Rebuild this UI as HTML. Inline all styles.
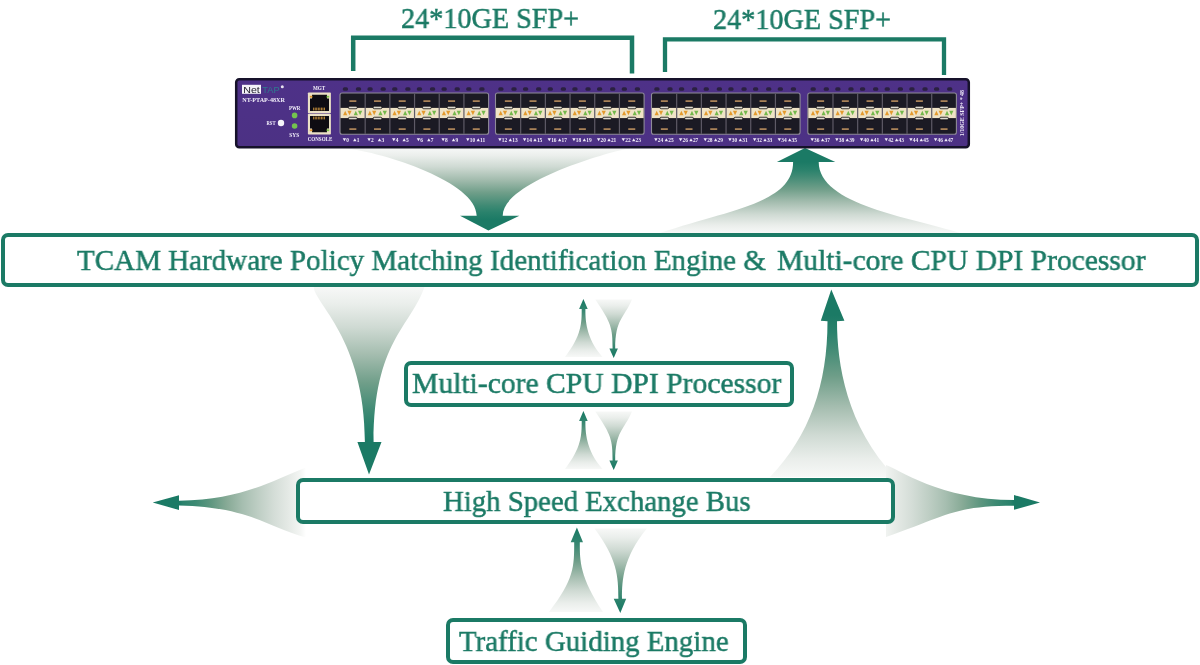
<!DOCTYPE html>
<html><head><meta charset="utf-8"><title>NetTAP</title>
<style>
html,body{margin:0;padding:0;background:#fff;}
body{width:1200px;height:665px;position:relative;overflow:hidden;font-family:"Liberation Serif",serif;}
.a{position:absolute;}
.box{position:absolute;border:4px solid #1b7a65;border-radius:7px;box-sizing:border-box;background:#fff;}
.t{position:absolute;white-space:pre;color:#1b7a65;-webkit-text-stroke:0.5px #1b7a65;font-family:"Liberation Serif",serif;transform-origin:0 0;line-height:1;will-change:transform;}
svg{position:absolute;left:0;top:0;}
.sw{position:absolute;left:235px;top:78px;width:735px;height:70.5px;box-sizing:border-box;background:#4d2b8b;border:2.5px solid #17132b;border-radius:3px;}
.st{position:absolute;white-space:pre;color:#fff;font-family:"Liberation Serif",serif;line-height:1;transform-origin:0 0;}
</style></head><body>

<svg width="1200" height="665" viewBox="0 0 1200 665">
<defs>
<linearGradient id="g1" gradientUnits="userSpaceOnUse" x1="0" y1="148" x2="0" y2="220"><stop offset="0" stop-color="#f7f8f7"/><stop offset="0.11" stop-color="#eaeeeb"/><stop offset="0.26" stop-color="#cfdad3"/><stop offset="0.44" stop-color="#a3bcae"/><stop offset="0.62" stop-color="#6f9e89"/><stop offset="0.80" stop-color="#3f8a74"/><stop offset="0.89" stop-color="#2a826c"/><stop offset="1" stop-color="#1b7a65"/></linearGradient>
<linearGradient id="g2" gradientUnits="userSpaceOnUse" x1="0" y1="233" x2="0" y2="162"><stop offset="0" stop-color="#f7f8f7"/><stop offset="0.11" stop-color="#eaeeeb"/><stop offset="0.26" stop-color="#cfdad3"/><stop offset="0.44" stop-color="#a3bcae"/><stop offset="0.62" stop-color="#6f9e89"/><stop offset="0.80" stop-color="#3f8a74"/><stop offset="0.89" stop-color="#2a826c"/><stop offset="1" stop-color="#1b7a65"/></linearGradient>
<linearGradient id="g3" gradientUnits="userSpaceOnUse" x1="0" y1="287" x2="0" y2="442"><stop offset="0" stop-color="#f7f8f7"/><stop offset="0.11" stop-color="#eaeeeb"/><stop offset="0.26" stop-color="#cfdad3"/><stop offset="0.44" stop-color="#a3bcae"/><stop offset="0.62" stop-color="#6f9e89"/><stop offset="0.80" stop-color="#3f8a74"/><stop offset="0.89" stop-color="#2a826c"/><stop offset="1" stop-color="#1b7a65"/></linearGradient>
<linearGradient id="g4" gradientUnits="userSpaceOnUse" x1="0" y1="477" x2="0" y2="315"><stop offset="0" stop-color="#f7f8f7"/><stop offset="0.11" stop-color="#eaeeeb"/><stop offset="0.26" stop-color="#cfdad3"/><stop offset="0.44" stop-color="#a3bcae"/><stop offset="0.62" stop-color="#6f9e89"/><stop offset="0.80" stop-color="#3f8a74"/><stop offset="0.89" stop-color="#2a826c"/><stop offset="1" stop-color="#1b7a65"/></linearGradient>
<linearGradient id="g5" gradientUnits="userSpaceOnUse" x1="0" y1="357" x2="0" y2="301"><stop offset="0" stop-color="#f7f8f7"/><stop offset="0.11" stop-color="#eaeeeb"/><stop offset="0.26" stop-color="#cfdad3"/><stop offset="0.44" stop-color="#a3bcae"/><stop offset="0.62" stop-color="#6f9e89"/><stop offset="0.80" stop-color="#3f8a74"/><stop offset="0.89" stop-color="#2a826c"/><stop offset="1" stop-color="#1b7a65"/></linearGradient>
<linearGradient id="g6" gradientUnits="userSpaceOnUse" x1="0" y1="299.5" x2="0" y2="356"><stop offset="0" stop-color="#f7f8f7"/><stop offset="0.11" stop-color="#eaeeeb"/><stop offset="0.26" stop-color="#cfdad3"/><stop offset="0.44" stop-color="#a3bcae"/><stop offset="0.62" stop-color="#6f9e89"/><stop offset="0.80" stop-color="#3f8a74"/><stop offset="0.89" stop-color="#2a826c"/><stop offset="1" stop-color="#1b7a65"/></linearGradient>
<linearGradient id="g7" gradientUnits="userSpaceOnUse" x1="0" y1="469" x2="0" y2="413"><stop offset="0" stop-color="#f7f8f7"/><stop offset="0.11" stop-color="#eaeeeb"/><stop offset="0.26" stop-color="#cfdad3"/><stop offset="0.44" stop-color="#a3bcae"/><stop offset="0.62" stop-color="#6f9e89"/><stop offset="0.80" stop-color="#3f8a74"/><stop offset="0.89" stop-color="#2a826c"/><stop offset="1" stop-color="#1b7a65"/></linearGradient>
<linearGradient id="g8" gradientUnits="userSpaceOnUse" x1="0" y1="411.5" x2="0" y2="468"><stop offset="0" stop-color="#f7f8f7"/><stop offset="0.11" stop-color="#eaeeeb"/><stop offset="0.26" stop-color="#cfdad3"/><stop offset="0.44" stop-color="#a3bcae"/><stop offset="0.62" stop-color="#6f9e89"/><stop offset="0.80" stop-color="#3f8a74"/><stop offset="0.89" stop-color="#2a826c"/><stop offset="1" stop-color="#1b7a65"/></linearGradient>
<linearGradient id="g9" gradientUnits="userSpaceOnUse" x1="0" y1="612" x2="0" y2="530"><stop offset="0" stop-color="#f7f8f7"/><stop offset="0.11" stop-color="#eaeeeb"/><stop offset="0.26" stop-color="#cfdad3"/><stop offset="0.44" stop-color="#a3bcae"/><stop offset="0.62" stop-color="#6f9e89"/><stop offset="0.80" stop-color="#3f8a74"/><stop offset="0.89" stop-color="#2a826c"/><stop offset="1" stop-color="#1b7a65"/></linearGradient>
<linearGradient id="g10" gradientUnits="userSpaceOnUse" x1="0" y1="528.6" x2="0" y2="610"><stop offset="0" stop-color="#f7f8f7"/><stop offset="0.11" stop-color="#eaeeeb"/><stop offset="0.26" stop-color="#cfdad3"/><stop offset="0.44" stop-color="#a3bcae"/><stop offset="0.62" stop-color="#6f9e89"/><stop offset="0.80" stop-color="#3f8a74"/><stop offset="0.89" stop-color="#2a826c"/><stop offset="1" stop-color="#1b7a65"/></linearGradient>
<linearGradient id="g11" gradientUnits="userSpaceOnUse" x1="306" y1="0" x2="179" y2="0"><stop offset="0" stop-color="#ffffff"/><stop offset="0.0472" stop-color="#f3f5f3"/><stop offset="0.1425" stop-color="#e4e9e5"/><stop offset="0.2521" stop-color="#d4ddd7"/><stop offset="0.3759" stop-color="#becec4"/><stop offset="0.4998" stop-color="#a6beb0"/><stop offset="0.6237" stop-color="#87aa96"/><stop offset="0.7475" stop-color="#5f9780"/><stop offset="0.8666" stop-color="#3d8a73"/><stop offset="0.9714" stop-color="#2a826c"/><stop offset="1.0000" stop-color="#1b7a65"/></linearGradient>
<linearGradient id="g12" gradientUnits="userSpaceOnUse" x1="878" y1="0" x2="1014" y2="0"><stop offset="0" stop-color="#ffffff"/><stop offset="0.0441" stop-color="#f3f5f3"/><stop offset="0.1397" stop-color="#e4e9e5"/><stop offset="0.2496" stop-color="#d4ddd7"/><stop offset="0.3739" stop-color="#becec4"/><stop offset="0.4982" stop-color="#a6beb0"/><stop offset="0.6224" stop-color="#87aa96"/><stop offset="0.7467" stop-color="#5f9780"/><stop offset="0.8662" stop-color="#3d8a73"/><stop offset="0.9713" stop-color="#2a826c"/><stop offset="1.0000" stop-color="#1b7a65"/></linearGradient>
</defs>
<path d="M344.7,148 C384.3,152.7 476.7,182.0 476.7,215.7 L460,215.7 L488.4,230.6 L519.4,215.7 L502.7,215.7 C502.7,180.0 622.2,148.0 632.7,148 Z" fill="url(#g1)"/>
<path d="M805,148 L776.9,162 L793.1,162 C793.1,203.1 730.4,209.5 660,233 L960,233 C911.1,217.3 818.7,205.1 818.7,162 L835.3,162 Z" fill="url(#g2)"/>
<path d="M313.8,287 C313.8,302.9 364.9,338.7 364.9,442 L357.4,442 L369,474.5 L381.5,442 L373.6,442 C373.6,341.8 410.9,326.3 424.5,287 Z" fill="url(#g3)"/>
<path d="M831.3,289.4 L820.8,320.8 L827.5,321.2 C827.5,384.2 809.7,435.6 770,477 L895,477 C846.2,426.1 837,363 837,321.2 L844.4,320.8 Z" fill="url(#g4)"/>
<path d="M583.4,299.0 L579.1,309.1 L581.7,309.1 C581.7,322.6 581.7,335.6 565,357.0 L602.5,357.0 C585.4,337.9 585.4,318.4 585.4,309.1 L587.7,309.1 Z" fill="url(#g5)"/>
<path d="M595.3,299.5 C611.3,322.9 612.6,328.1 612.6,348.4 L609.4,348.4 L613.7,358.0 L617.9,348.4 L615.2,348.4 C615.2,319.2 624.1,318.0 632,299.5 Z" fill="url(#g6)"/>
<path d="M583.4,411.0 L579.1,421.1 L581.7,421.1 C581.7,434.6 581.7,447.6 565,469.0 L602.5,469.0 C585.4,449.9 585.4,430.4 585.4,421.1 L587.7,421.1 Z" fill="url(#g7)"/>
<path d="M595.3,411.5 C611.3,434.9 612.6,440.1 612.6,460.4 L609.4,460.4 L613.7,470.0 L617.9,460.4 L615.2,460.4 C615.2,431.2 624.1,430.0 632,411.5 Z" fill="url(#g8)"/>
<path d="M576.9,527.6 L570.7,542.3 L574.2,542.3 C574.2,566.4 574.2,579.7 549,612 L603,612 C579.8,577.1 579.8,561.2 579.8,542.3 L583,542.3 Z" fill="url(#g9)"/>
<path d="M594.5,528.6 C617,559.1 618.4,575.5 618.4,598.7 L613.7,598.7 L620.3,613.1 L626.2,598.7 L622,598.7 C622,579.9 623.2,557.4 646.9,528.6 Z" fill="url(#g10)"/>
<path d="M152.7,502.5 L179,495.2 L179,500.7 C239.5,499.8 266.4,483.4 306,467.5 L306,537.5 C262.1,524.8 249.3,507.4 179,505.4 L179,509.9 Z" fill="url(#g11)"/>
<path d="M1040,502.5 L1014,495 L1014,500.1 C940.9,500.1 897.4,468.6 886,465 L886,537 C945.3,516.7 952,505.8 1014,505.8 L1014,509.8 Z" fill="url(#g12)"/>
<path d="M353.2,71 L353.2,37.7 L632,37.7 L632,73.6" fill="none" stroke="#1b7a65" stroke-width="4.5"/>
<path d="M665,72 L665,39.4 L944,39.4 L944,75" fill="none" stroke="#1b7a65" stroke-width="4.3"/>
</svg>
<div class="box" style="left:1px;top:233px;width:1198px;height:54px"></div>
<div class="box" style="left:404px;top:361px;width:390px;height:46px"></div>
<div class="box" style="left:296px;top:478px;width:599px;height:46px"></div>
<div class="box" style="left:446px;top:618px;width:301px;height:46px"></div>
<div class="t" style="left:401px;top:3.90px;font-size:29px;transform:scaleX(0.972);">24*10GE SFP+</div>
<div class="t" style="left:713px;top:4.90px;font-size:29px;transform:scaleX(0.972);">24*10GE SFP+</div>
<div class="t" style="left:77px;top:244.68px;font-size:30.2px;transform:scaleX(0.9622);">TCAM Hardware Policy Matching Identification Engine &amp;</div>
<div class="t" style="left:777.3px;top:244.68px;font-size:30.2px;transform:scaleX(0.9788);">Multi-core CPU DPI Processor</div>
<div class="t" style="left:411.5px;top:368.22px;font-size:30px;transform:scaleX(0.987);">Multi-core CPU DPI Processor</div>
<div class="t" style="left:442.5px;top:486.81px;font-size:29.5px;transform:scaleX(0.975);">High Speed Exchange Bus</div>
<div class="t" style="left:459px;top:626.22px;font-size:30px;transform:scaleX(0.963);">Traffic Guiding Engine</div>
<svg width="1200" height="665" viewBox="0 0 1200 665" style="position:absolute;left:0;top:0">
<defs><linearGradient id="pur" x1="0" y1="0" x2="0" y2="1"><stop offset="0" stop-color="#4e3188"/><stop offset="1" stop-color="#4c3184"/></linearGradient></defs>
<rect x="236.2" y="79.2" width="732.6" height="68.1" rx="3" fill="url(#pur)" stroke="#16122a" stroke-width="2.5"/>
<rect x="242" y="84.8" width="19" height="9" fill="#f4f2f8"/>
<text x="243.2" y="92.6" font-family="Liberation Sans" font-size="9.6" fill="#1d1a28" textLength="16.6" lengthAdjust="spacingAndGlyphs">Net</text>
<text x="262.3" y="92.6" font-family="Liberation Sans" font-size="9.6" fill="#2f7a90" textLength="17.3" lengthAdjust="spacingAndGlyphs">TAP</text>
<circle cx="282.3" cy="86.8" r="1.5" fill="#e8e4f0"/>
<text x="242.3" y="102.2" font-family="Liberation Serif" font-weight="bold" font-size="7" fill="#f2eefa" textLength="42.6" lengthAdjust="spacingAndGlyphs">NT-PTAP-48XR</text>
<text x="288.9" y="110" font-family="Liberation Serif" font-weight="bold" font-size="5.6" fill="#f2eefa" textLength="11.5" lengthAdjust="spacingAndGlyphs">PWR</text>
<text x="289.2" y="136.6" font-family="Liberation Serif" font-weight="bold" font-size="5.6" fill="#f2eefa" textLength="10" lengthAdjust="spacingAndGlyphs">SYS</text>
<text x="266.5" y="125.2" font-family="Liberation Serif" font-weight="bold" font-size="5.6" fill="#f2eefa" textLength="9" lengthAdjust="spacingAndGlyphs">RST</text>
<circle cx="294.6" cy="115.4" r="2.8" fill="#74c34f"/>
<circle cx="294.6" cy="126" r="2.8" fill="#74c34f"/>
<circle cx="281" cy="123" r="3.2" fill="#f6f4fa"/>
<text x="312.9" y="90.1" font-family="Liberation Serif" font-weight="bold" font-size="5.6" fill="#f2eefa" textLength="12.3" lengthAdjust="spacingAndGlyphs">MGT</text>
<text x="307.7" y="141.4" font-family="Liberation Serif" font-weight="bold" font-size="5.6" fill="#f2eefa" textLength="24.6" lengthAdjust="spacingAndGlyphs">CONSOLE</text>
<rect x="307.9" y="92.4" width="23" height="20.9" rx="0.8" fill="#ebe0c6"/>
<path d="M310,98.4 L312,98.4 L312,94.80000000000001 L327,94.80000000000001 L327,98.4 L329,98.4 L329,110.9 L310,110.9 Z" fill="#0e0c12"/>
<rect x="309.8" y="95.80000000000001" width="2.6" height="1.8" fill="#e0962e"/>
<rect x="326.6" y="95.80000000000001" width="2.6" height="1.8" fill="#7cc04a"/>
<rect x="313.20" y="107.60000000000001" width="0.9" height="2.8" fill="#c9923e"/>
<rect x="314.75" y="107.60000000000001" width="0.9" height="2.8" fill="#c9923e"/>
<rect x="316.30" y="107.60000000000001" width="0.9" height="2.8" fill="#c9923e"/>
<rect x="317.85" y="107.60000000000001" width="0.9" height="2.8" fill="#c9923e"/>
<rect x="319.40" y="107.60000000000001" width="0.9" height="2.8" fill="#c9923e"/>
<rect x="320.95" y="107.60000000000001" width="0.9" height="2.8" fill="#c9923e"/>
<rect x="322.50" y="107.60000000000001" width="0.9" height="2.8" fill="#c9923e"/>
<rect x="324.05" y="107.60000000000001" width="0.9" height="2.8" fill="#c9923e"/>
<rect x="307.9" y="113.7" width="23" height="20.9" rx="0.8" fill="#ebe0c6"/>
<path d="M310,116.10000000000001 L329,116.10000000000001 L329,128.6 L327,128.6 L327,132.2 L312,132.2 L312,128.6 L310,128.6 Z" fill="#0e0c12"/>
<rect x="309.8" y="129.4" width="2.6" height="1.8" fill="#e0962e"/>
<rect x="326.6" y="129.4" width="2.6" height="1.8" fill="#7cc04a"/>
<rect x="313.20" y="116.60000000000001" width="0.9" height="2.8" fill="#c9923e"/>
<rect x="314.75" y="116.60000000000001" width="0.9" height="2.8" fill="#c9923e"/>
<rect x="316.30" y="116.60000000000001" width="0.9" height="2.8" fill="#c9923e"/>
<rect x="317.85" y="116.60000000000001" width="0.9" height="2.8" fill="#c9923e"/>
<rect x="319.40" y="116.60000000000001" width="0.9" height="2.8" fill="#c9923e"/>
<rect x="320.95" y="116.60000000000001" width="0.9" height="2.8" fill="#c9923e"/>
<rect x="322.50" y="116.60000000000001" width="0.9" height="2.8" fill="#c9923e"/>
<rect x="324.05" y="116.60000000000001" width="0.9" height="2.8" fill="#c9923e"/>
<rect x="340.0" y="93" width="148.6" height="41.3" rx="2" fill="#1b1a24" stroke="#8f8b98" stroke-width="1.1"/>
<rect x="340.5" y="107.9" width="147.6" height="10.2" fill="#efe3c6"/>
<rect x="348.44" y="106.2" width="8.8" height="2.6" rx="1.2" fill="#a9a39a" stroke="#09080c" stroke-width="0.7"/>
<rect x="349.24" y="106.9" width="7.2" height="0.8" fill="#f4f1ea"/>
<rect x="348.44" y="117.2" width="8.8" height="2.6" rx="1.2" fill="#a9a39a" stroke="#09080c" stroke-width="0.7"/>
<rect x="349.24" y="118.3" width="7.2" height="0.8" fill="#f4f1ea"/>
<rect x="349.34" y="100.3" width="7" height="1.6" fill="#b98e5f"/>
<rect x="349.34" y="128.3" width="7" height="1.6" fill="#b98e5f"/>
<path d="M343.10,115.2 L347.30,115.2 L345.20,110.8 Z" fill="#e39a2e"/>
<path d="M347.40,110.8 L351.60,110.8 L349.50,115.2 Z" fill="#e39a2e"/>
<path d="M353.70,115.2 L357.90,115.2 L355.80,110.8 Z" fill="#74b84c"/>
<path d="M358.00,110.8 L362.20,110.8 L360.10,115.2 Z" fill="#74b84c"/>
<rect x="342.80" y="87.2" width="5.2" height="3.6" rx="1.6" fill="#2a2040"/>
<rect x="355.90" y="87.2" width="5.2" height="3.6" rx="1.6" fill="#2a2040"/>
<path d="M342.70,138.3 L346.10,138.3 L344.40,141.3 Z" fill="#f2eefa"/>
<path d="M353.10,141.3 L356.50,141.3 L354.80,138.3 Z" fill="#f2eefa"/>
<text x="346.30" y="141.7" font-family="Liberation Serif" font-weight="bold" font-size="5.4" fill="#f2eefa">0</text>
<text x="356.70" y="141.7" font-family="Liberation Serif" font-weight="bold" font-size="5.4" fill="#f2eefa">1</text>
<rect x="364.58" y="93.5" width="1.2" height="40.4" fill="#5e5a66"/>
<rect x="373.12" y="106.2" width="8.8" height="2.6" rx="1.2" fill="#a9a39a" stroke="#09080c" stroke-width="0.7"/>
<rect x="373.92" y="106.9" width="7.2" height="0.8" fill="#f4f1ea"/>
<rect x="373.12" y="117.2" width="8.8" height="2.6" rx="1.2" fill="#a9a39a" stroke="#09080c" stroke-width="0.7"/>
<rect x="373.92" y="118.3" width="7.2" height="0.8" fill="#f4f1ea"/>
<rect x="374.02" y="100.3" width="7" height="1.6" fill="#b98e5f"/>
<rect x="374.02" y="128.3" width="7" height="1.6" fill="#b98e5f"/>
<path d="M367.78,115.2 L371.98,115.2 L369.88,110.8 Z" fill="#e39a2e"/>
<path d="M372.08,110.8 L376.28,110.8 L374.18,115.2 Z" fill="#e39a2e"/>
<path d="M378.38,115.2 L382.58,115.2 L380.48,110.8 Z" fill="#74b84c"/>
<path d="M382.68,110.8 L386.88,110.8 L384.78,115.2 Z" fill="#74b84c"/>
<rect x="367.48" y="87.2" width="5.2" height="3.6" rx="1.6" fill="#2a2040"/>
<rect x="380.58" y="87.2" width="5.2" height="3.6" rx="1.6" fill="#2a2040"/>
<path d="M367.38,138.3 L370.78,138.3 L369.08,141.3 Z" fill="#f2eefa"/>
<path d="M377.78,141.3 L381.18,141.3 L379.48,138.3 Z" fill="#f2eefa"/>
<text x="370.98" y="141.7" font-family="Liberation Serif" font-weight="bold" font-size="5.4" fill="#f2eefa">2</text>
<text x="381.38" y="141.7" font-family="Liberation Serif" font-weight="bold" font-size="5.4" fill="#f2eefa">3</text>
<rect x="389.27" y="93.5" width="1.2" height="40.4" fill="#5e5a66"/>
<rect x="397.81" y="106.2" width="8.8" height="2.6" rx="1.2" fill="#a9a39a" stroke="#09080c" stroke-width="0.7"/>
<rect x="398.61" y="106.9" width="7.2" height="0.8" fill="#f4f1ea"/>
<rect x="397.81" y="117.2" width="8.8" height="2.6" rx="1.2" fill="#a9a39a" stroke="#09080c" stroke-width="0.7"/>
<rect x="398.61" y="118.3" width="7.2" height="0.8" fill="#f4f1ea"/>
<rect x="398.71" y="100.3" width="7" height="1.6" fill="#b98e5f"/>
<rect x="398.71" y="128.3" width="7" height="1.6" fill="#b98e5f"/>
<path d="M392.47,115.2 L396.67,115.2 L394.57,110.8 Z" fill="#e39a2e"/>
<path d="M396.77,110.8 L400.97,110.8 L398.87,115.2 Z" fill="#e39a2e"/>
<path d="M403.07,115.2 L407.27,115.2 L405.17,110.8 Z" fill="#74b84c"/>
<path d="M407.37,110.8 L411.57,110.8 L409.47,115.2 Z" fill="#74b84c"/>
<rect x="392.17" y="87.2" width="5.2" height="3.6" rx="1.6" fill="#2a2040"/>
<rect x="405.27" y="87.2" width="5.2" height="3.6" rx="1.6" fill="#2a2040"/>
<path d="M392.07,138.3 L395.47,138.3 L393.77,141.3 Z" fill="#f2eefa"/>
<path d="M402.47,141.3 L405.87,141.3 L404.17,138.3 Z" fill="#f2eefa"/>
<text x="395.67" y="141.7" font-family="Liberation Serif" font-weight="bold" font-size="5.4" fill="#f2eefa">4</text>
<text x="406.07" y="141.7" font-family="Liberation Serif" font-weight="bold" font-size="5.4" fill="#f2eefa">5</text>
<rect x="413.95" y="93.5" width="1.2" height="40.4" fill="#5e5a66"/>
<rect x="422.49" y="106.2" width="8.8" height="2.6" rx="1.2" fill="#a9a39a" stroke="#09080c" stroke-width="0.7"/>
<rect x="423.29" y="106.9" width="7.2" height="0.8" fill="#f4f1ea"/>
<rect x="422.49" y="117.2" width="8.8" height="2.6" rx="1.2" fill="#a9a39a" stroke="#09080c" stroke-width="0.7"/>
<rect x="423.29" y="118.3" width="7.2" height="0.8" fill="#f4f1ea"/>
<rect x="423.39" y="100.3" width="7" height="1.6" fill="#b98e5f"/>
<rect x="423.39" y="128.3" width="7" height="1.6" fill="#b98e5f"/>
<path d="M417.15,115.2 L421.35,115.2 L419.25,110.8 Z" fill="#e39a2e"/>
<path d="M421.45,110.8 L425.65,110.8 L423.55,115.2 Z" fill="#e39a2e"/>
<path d="M427.75,115.2 L431.95,115.2 L429.85,110.8 Z" fill="#74b84c"/>
<path d="M432.05,110.8 L436.25,110.8 L434.15,115.2 Z" fill="#74b84c"/>
<rect x="416.85" y="87.2" width="5.2" height="3.6" rx="1.6" fill="#2a2040"/>
<rect x="429.95" y="87.2" width="5.2" height="3.6" rx="1.6" fill="#2a2040"/>
<path d="M416.75,138.3 L420.15,138.3 L418.45,141.3 Z" fill="#f2eefa"/>
<path d="M427.15,141.3 L430.55,141.3 L428.85,138.3 Z" fill="#f2eefa"/>
<text x="420.35" y="141.7" font-family="Liberation Serif" font-weight="bold" font-size="5.4" fill="#f2eefa">6</text>
<text x="430.75" y="141.7" font-family="Liberation Serif" font-weight="bold" font-size="5.4" fill="#f2eefa">7</text>
<rect x="438.63" y="93.5" width="1.2" height="40.4" fill="#5e5a66"/>
<rect x="447.18" y="106.2" width="8.8" height="2.6" rx="1.2" fill="#a9a39a" stroke="#09080c" stroke-width="0.7"/>
<rect x="447.97" y="106.9" width="7.2" height="0.8" fill="#f4f1ea"/>
<rect x="447.18" y="117.2" width="8.8" height="2.6" rx="1.2" fill="#a9a39a" stroke="#09080c" stroke-width="0.7"/>
<rect x="447.97" y="118.3" width="7.2" height="0.8" fill="#f4f1ea"/>
<rect x="448.07" y="100.3" width="7" height="1.6" fill="#b98e5f"/>
<rect x="448.07" y="128.3" width="7" height="1.6" fill="#b98e5f"/>
<path d="M441.83,115.2 L446.03,115.2 L443.93,110.8 Z" fill="#e39a2e"/>
<path d="M446.13,110.8 L450.33,110.8 L448.23,115.2 Z" fill="#e39a2e"/>
<path d="M452.43,115.2 L456.63,115.2 L454.53,110.8 Z" fill="#74b84c"/>
<path d="M456.73,110.8 L460.93,110.8 L458.83,115.2 Z" fill="#74b84c"/>
<rect x="441.53" y="87.2" width="5.2" height="3.6" rx="1.6" fill="#2a2040"/>
<rect x="454.63" y="87.2" width="5.2" height="3.6" rx="1.6" fill="#2a2040"/>
<path d="M441.43,138.3 L444.83,138.3 L443.13,141.3 Z" fill="#f2eefa"/>
<path d="M451.83,141.3 L455.23,141.3 L453.53,138.3 Z" fill="#f2eefa"/>
<text x="445.03" y="141.7" font-family="Liberation Serif" font-weight="bold" font-size="5.4" fill="#f2eefa">8</text>
<text x="455.43" y="141.7" font-family="Liberation Serif" font-weight="bold" font-size="5.4" fill="#f2eefa">9</text>
<rect x="463.32" y="93.5" width="1.2" height="40.4" fill="#5e5a66"/>
<rect x="471.86" y="106.2" width="8.8" height="2.6" rx="1.2" fill="#a9a39a" stroke="#09080c" stroke-width="0.7"/>
<rect x="472.66" y="106.9" width="7.2" height="0.8" fill="#f4f1ea"/>
<rect x="471.86" y="117.2" width="8.8" height="2.6" rx="1.2" fill="#a9a39a" stroke="#09080c" stroke-width="0.7"/>
<rect x="472.66" y="118.3" width="7.2" height="0.8" fill="#f4f1ea"/>
<rect x="472.76" y="100.3" width="7" height="1.6" fill="#b98e5f"/>
<rect x="472.76" y="128.3" width="7" height="1.6" fill="#b98e5f"/>
<path d="M466.52,115.2 L470.72,115.2 L468.62,110.8 Z" fill="#e39a2e"/>
<path d="M470.82,110.8 L475.02,110.8 L472.92,115.2 Z" fill="#e39a2e"/>
<path d="M477.12,115.2 L481.32,115.2 L479.22,110.8 Z" fill="#74b84c"/>
<path d="M481.42,110.8 L485.62,110.8 L483.52,115.2 Z" fill="#74b84c"/>
<rect x="466.22" y="87.2" width="5.2" height="3.6" rx="1.6" fill="#2a2040"/>
<rect x="479.32" y="87.2" width="5.2" height="3.6" rx="1.6" fill="#2a2040"/>
<path d="M466.12,138.3 L469.52,138.3 L467.82,141.3 Z" fill="#f2eefa"/>
<path d="M476.52,141.3 L479.92,141.3 L478.22,138.3 Z" fill="#f2eefa"/>
<text x="469.72" y="141.7" font-family="Liberation Serif" font-weight="bold" font-size="5.4" fill="#f2eefa">10</text>
<text x="480.12" y="141.7" font-family="Liberation Serif" font-weight="bold" font-size="5.4" fill="#f2eefa">11</text>
<rect x="495.5" y="93" width="148.6" height="41.3" rx="2" fill="#1b1a24" stroke="#8f8b98" stroke-width="1.1"/>
<rect x="496.0" y="107.9" width="147.6" height="10.2" fill="#efe3c6"/>
<rect x="503.94" y="106.2" width="8.8" height="2.6" rx="1.2" fill="#a9a39a" stroke="#09080c" stroke-width="0.7"/>
<rect x="504.74" y="106.9" width="7.2" height="0.8" fill="#f4f1ea"/>
<rect x="503.94" y="117.2" width="8.8" height="2.6" rx="1.2" fill="#a9a39a" stroke="#09080c" stroke-width="0.7"/>
<rect x="504.74" y="118.3" width="7.2" height="0.8" fill="#f4f1ea"/>
<rect x="504.84" y="100.3" width="7" height="1.6" fill="#b98e5f"/>
<rect x="504.84" y="128.3" width="7" height="1.6" fill="#b98e5f"/>
<path d="M498.60,115.2 L502.80,115.2 L500.70,110.8 Z" fill="#e39a2e"/>
<path d="M502.90,110.8 L507.10,110.8 L505.00,115.2 Z" fill="#e39a2e"/>
<path d="M509.20,115.2 L513.40,115.2 L511.30,110.8 Z" fill="#74b84c"/>
<path d="M513.50,110.8 L517.70,110.8 L515.60,115.2 Z" fill="#74b84c"/>
<rect x="498.30" y="87.2" width="5.2" height="3.6" rx="1.6" fill="#2a2040"/>
<rect x="511.40" y="87.2" width="5.2" height="3.6" rx="1.6" fill="#2a2040"/>
<path d="M498.20,138.3 L501.60,138.3 L499.90,141.3 Z" fill="#f2eefa"/>
<path d="M508.60,141.3 L512.00,141.3 L510.30,138.3 Z" fill="#f2eefa"/>
<text x="501.80" y="141.7" font-family="Liberation Serif" font-weight="bold" font-size="5.4" fill="#f2eefa">12</text>
<text x="512.20" y="141.7" font-family="Liberation Serif" font-weight="bold" font-size="5.4" fill="#f2eefa">13</text>
<rect x="520.08" y="93.5" width="1.2" height="40.4" fill="#5e5a66"/>
<rect x="528.62" y="106.2" width="8.8" height="2.6" rx="1.2" fill="#a9a39a" stroke="#09080c" stroke-width="0.7"/>
<rect x="529.42" y="106.9" width="7.2" height="0.8" fill="#f4f1ea"/>
<rect x="528.62" y="117.2" width="8.8" height="2.6" rx="1.2" fill="#a9a39a" stroke="#09080c" stroke-width="0.7"/>
<rect x="529.42" y="118.3" width="7.2" height="0.8" fill="#f4f1ea"/>
<rect x="529.52" y="100.3" width="7" height="1.6" fill="#b98e5f"/>
<rect x="529.52" y="128.3" width="7" height="1.6" fill="#b98e5f"/>
<path d="M523.28,115.2 L527.48,115.2 L525.38,110.8 Z" fill="#e39a2e"/>
<path d="M527.58,110.8 L531.78,110.8 L529.68,115.2 Z" fill="#e39a2e"/>
<path d="M533.88,115.2 L538.08,115.2 L535.98,110.8 Z" fill="#74b84c"/>
<path d="M538.18,110.8 L542.38,110.8 L540.28,115.2 Z" fill="#74b84c"/>
<rect x="522.98" y="87.2" width="5.2" height="3.6" rx="1.6" fill="#2a2040"/>
<rect x="536.08" y="87.2" width="5.2" height="3.6" rx="1.6" fill="#2a2040"/>
<path d="M522.88,138.3 L526.28,138.3 L524.58,141.3 Z" fill="#f2eefa"/>
<path d="M533.28,141.3 L536.68,141.3 L534.98,138.3 Z" fill="#f2eefa"/>
<text x="526.48" y="141.7" font-family="Liberation Serif" font-weight="bold" font-size="5.4" fill="#f2eefa">14</text>
<text x="536.88" y="141.7" font-family="Liberation Serif" font-weight="bold" font-size="5.4" fill="#f2eefa">15</text>
<rect x="544.77" y="93.5" width="1.2" height="40.4" fill="#5e5a66"/>
<rect x="553.31" y="106.2" width="8.8" height="2.6" rx="1.2" fill="#a9a39a" stroke="#09080c" stroke-width="0.7"/>
<rect x="554.11" y="106.9" width="7.2" height="0.8" fill="#f4f1ea"/>
<rect x="553.31" y="117.2" width="8.8" height="2.6" rx="1.2" fill="#a9a39a" stroke="#09080c" stroke-width="0.7"/>
<rect x="554.11" y="118.3" width="7.2" height="0.8" fill="#f4f1ea"/>
<rect x="554.21" y="100.3" width="7" height="1.6" fill="#b98e5f"/>
<rect x="554.21" y="128.3" width="7" height="1.6" fill="#b98e5f"/>
<path d="M547.97,115.2 L552.17,115.2 L550.07,110.8 Z" fill="#e39a2e"/>
<path d="M552.27,110.8 L556.47,110.8 L554.37,115.2 Z" fill="#e39a2e"/>
<path d="M558.57,115.2 L562.77,115.2 L560.67,110.8 Z" fill="#74b84c"/>
<path d="M562.87,110.8 L567.07,110.8 L564.97,115.2 Z" fill="#74b84c"/>
<rect x="547.67" y="87.2" width="5.2" height="3.6" rx="1.6" fill="#2a2040"/>
<rect x="560.77" y="87.2" width="5.2" height="3.6" rx="1.6" fill="#2a2040"/>
<path d="M547.57,138.3 L550.97,138.3 L549.27,141.3 Z" fill="#f2eefa"/>
<path d="M557.97,141.3 L561.37,141.3 L559.67,138.3 Z" fill="#f2eefa"/>
<text x="551.17" y="141.7" font-family="Liberation Serif" font-weight="bold" font-size="5.4" fill="#f2eefa">16</text>
<text x="561.57" y="141.7" font-family="Liberation Serif" font-weight="bold" font-size="5.4" fill="#f2eefa">17</text>
<rect x="569.45" y="93.5" width="1.2" height="40.4" fill="#5e5a66"/>
<rect x="577.99" y="106.2" width="8.8" height="2.6" rx="1.2" fill="#a9a39a" stroke="#09080c" stroke-width="0.7"/>
<rect x="578.79" y="106.9" width="7.2" height="0.8" fill="#f4f1ea"/>
<rect x="577.99" y="117.2" width="8.8" height="2.6" rx="1.2" fill="#a9a39a" stroke="#09080c" stroke-width="0.7"/>
<rect x="578.79" y="118.3" width="7.2" height="0.8" fill="#f4f1ea"/>
<rect x="578.89" y="100.3" width="7" height="1.6" fill="#b98e5f"/>
<rect x="578.89" y="128.3" width="7" height="1.6" fill="#b98e5f"/>
<path d="M572.65,115.2 L576.85,115.2 L574.75,110.8 Z" fill="#e39a2e"/>
<path d="M576.95,110.8 L581.15,110.8 L579.05,115.2 Z" fill="#e39a2e"/>
<path d="M583.25,115.2 L587.45,115.2 L585.35,110.8 Z" fill="#74b84c"/>
<path d="M587.55,110.8 L591.75,110.8 L589.65,115.2 Z" fill="#74b84c"/>
<rect x="572.35" y="87.2" width="5.2" height="3.6" rx="1.6" fill="#2a2040"/>
<rect x="585.45" y="87.2" width="5.2" height="3.6" rx="1.6" fill="#2a2040"/>
<path d="M572.25,138.3 L575.65,138.3 L573.95,141.3 Z" fill="#f2eefa"/>
<path d="M582.65,141.3 L586.05,141.3 L584.35,138.3 Z" fill="#f2eefa"/>
<text x="575.85" y="141.7" font-family="Liberation Serif" font-weight="bold" font-size="5.4" fill="#f2eefa">18</text>
<text x="586.25" y="141.7" font-family="Liberation Serif" font-weight="bold" font-size="5.4" fill="#f2eefa">19</text>
<rect x="594.13" y="93.5" width="1.2" height="40.4" fill="#5e5a66"/>
<rect x="602.68" y="106.2" width="8.8" height="2.6" rx="1.2" fill="#a9a39a" stroke="#09080c" stroke-width="0.7"/>
<rect x="603.48" y="106.9" width="7.2" height="0.8" fill="#f4f1ea"/>
<rect x="602.68" y="117.2" width="8.8" height="2.6" rx="1.2" fill="#a9a39a" stroke="#09080c" stroke-width="0.7"/>
<rect x="603.48" y="118.3" width="7.2" height="0.8" fill="#f4f1ea"/>
<rect x="603.58" y="100.3" width="7" height="1.6" fill="#b98e5f"/>
<rect x="603.58" y="128.3" width="7" height="1.6" fill="#b98e5f"/>
<path d="M597.33,115.2 L601.53,115.2 L599.43,110.8 Z" fill="#e39a2e"/>
<path d="M601.63,110.8 L605.83,110.8 L603.73,115.2 Z" fill="#e39a2e"/>
<path d="M607.93,115.2 L612.13,115.2 L610.03,110.8 Z" fill="#74b84c"/>
<path d="M612.23,110.8 L616.43,110.8 L614.33,115.2 Z" fill="#74b84c"/>
<rect x="597.03" y="87.2" width="5.2" height="3.6" rx="1.6" fill="#2a2040"/>
<rect x="610.13" y="87.2" width="5.2" height="3.6" rx="1.6" fill="#2a2040"/>
<path d="M596.93,138.3 L600.33,138.3 L598.63,141.3 Z" fill="#f2eefa"/>
<path d="M607.33,141.3 L610.73,141.3 L609.03,138.3 Z" fill="#f2eefa"/>
<text x="600.53" y="141.7" font-family="Liberation Serif" font-weight="bold" font-size="5.4" fill="#f2eefa">20</text>
<text x="610.93" y="141.7" font-family="Liberation Serif" font-weight="bold" font-size="5.4" fill="#f2eefa">21</text>
<rect x="618.82" y="93.5" width="1.2" height="40.4" fill="#5e5a66"/>
<rect x="627.36" y="106.2" width="8.8" height="2.6" rx="1.2" fill="#a9a39a" stroke="#09080c" stroke-width="0.7"/>
<rect x="628.16" y="106.9" width="7.2" height="0.8" fill="#f4f1ea"/>
<rect x="627.36" y="117.2" width="8.8" height="2.6" rx="1.2" fill="#a9a39a" stroke="#09080c" stroke-width="0.7"/>
<rect x="628.16" y="118.3" width="7.2" height="0.8" fill="#f4f1ea"/>
<rect x="628.26" y="100.3" width="7" height="1.6" fill="#b98e5f"/>
<rect x="628.26" y="128.3" width="7" height="1.6" fill="#b98e5f"/>
<path d="M622.02,115.2 L626.22,115.2 L624.12,110.8 Z" fill="#e39a2e"/>
<path d="M626.32,110.8 L630.52,110.8 L628.42,115.2 Z" fill="#e39a2e"/>
<path d="M632.62,115.2 L636.82,115.2 L634.72,110.8 Z" fill="#74b84c"/>
<path d="M636.92,110.8 L641.12,110.8 L639.02,115.2 Z" fill="#74b84c"/>
<rect x="621.72" y="87.2" width="5.2" height="3.6" rx="1.6" fill="#2a2040"/>
<rect x="634.82" y="87.2" width="5.2" height="3.6" rx="1.6" fill="#2a2040"/>
<path d="M621.62,138.3 L625.02,138.3 L623.32,141.3 Z" fill="#f2eefa"/>
<path d="M632.02,141.3 L635.42,141.3 L633.72,138.3 Z" fill="#f2eefa"/>
<text x="625.22" y="141.7" font-family="Liberation Serif" font-weight="bold" font-size="5.4" fill="#f2eefa">22</text>
<text x="635.62" y="141.7" font-family="Liberation Serif" font-weight="bold" font-size="5.4" fill="#f2eefa">23</text>
<rect x="651.5" y="93" width="148.6" height="41.3" rx="2" fill="#1b1a24" stroke="#8f8b98" stroke-width="1.1"/>
<rect x="652.0" y="107.9" width="147.6" height="10.2" fill="#efe3c6"/>
<rect x="659.94" y="106.2" width="8.8" height="2.6" rx="1.2" fill="#a9a39a" stroke="#09080c" stroke-width="0.7"/>
<rect x="660.74" y="106.9" width="7.2" height="0.8" fill="#f4f1ea"/>
<rect x="659.94" y="117.2" width="8.8" height="2.6" rx="1.2" fill="#a9a39a" stroke="#09080c" stroke-width="0.7"/>
<rect x="660.74" y="118.3" width="7.2" height="0.8" fill="#f4f1ea"/>
<rect x="660.84" y="100.3" width="7" height="1.6" fill="#b98e5f"/>
<rect x="660.84" y="128.3" width="7" height="1.6" fill="#b98e5f"/>
<path d="M654.60,115.2 L658.80,115.2 L656.70,110.8 Z" fill="#e39a2e"/>
<path d="M658.90,110.8 L663.10,110.8 L661.00,115.2 Z" fill="#e39a2e"/>
<path d="M665.20,115.2 L669.40,115.2 L667.30,110.8 Z" fill="#74b84c"/>
<path d="M669.50,110.8 L673.70,110.8 L671.60,115.2 Z" fill="#74b84c"/>
<rect x="654.30" y="87.2" width="5.2" height="3.6" rx="1.6" fill="#2a2040"/>
<rect x="667.40" y="87.2" width="5.2" height="3.6" rx="1.6" fill="#2a2040"/>
<path d="M654.20,138.3 L657.60,138.3 L655.90,141.3 Z" fill="#f2eefa"/>
<path d="M664.60,141.3 L668.00,141.3 L666.30,138.3 Z" fill="#f2eefa"/>
<text x="657.80" y="141.7" font-family="Liberation Serif" font-weight="bold" font-size="5.4" fill="#f2eefa">24</text>
<text x="668.20" y="141.7" font-family="Liberation Serif" font-weight="bold" font-size="5.4" fill="#f2eefa">25</text>
<rect x="676.08" y="93.5" width="1.2" height="40.4" fill="#5e5a66"/>
<rect x="684.62" y="106.2" width="8.8" height="2.6" rx="1.2" fill="#a9a39a" stroke="#09080c" stroke-width="0.7"/>
<rect x="685.42" y="106.9" width="7.2" height="0.8" fill="#f4f1ea"/>
<rect x="684.62" y="117.2" width="8.8" height="2.6" rx="1.2" fill="#a9a39a" stroke="#09080c" stroke-width="0.7"/>
<rect x="685.42" y="118.3" width="7.2" height="0.8" fill="#f4f1ea"/>
<rect x="685.52" y="100.3" width="7" height="1.6" fill="#b98e5f"/>
<rect x="685.52" y="128.3" width="7" height="1.6" fill="#b98e5f"/>
<path d="M679.28,115.2 L683.48,115.2 L681.38,110.8 Z" fill="#e39a2e"/>
<path d="M683.58,110.8 L687.78,110.8 L685.68,115.2 Z" fill="#e39a2e"/>
<path d="M689.88,115.2 L694.08,115.2 L691.98,110.8 Z" fill="#74b84c"/>
<path d="M694.18,110.8 L698.38,110.8 L696.28,115.2 Z" fill="#74b84c"/>
<rect x="678.98" y="87.2" width="5.2" height="3.6" rx="1.6" fill="#2a2040"/>
<rect x="692.08" y="87.2" width="5.2" height="3.6" rx="1.6" fill="#2a2040"/>
<path d="M678.88,138.3 L682.28,138.3 L680.58,141.3 Z" fill="#f2eefa"/>
<path d="M689.28,141.3 L692.68,141.3 L690.98,138.3 Z" fill="#f2eefa"/>
<text x="682.48" y="141.7" font-family="Liberation Serif" font-weight="bold" font-size="5.4" fill="#f2eefa">26</text>
<text x="692.88" y="141.7" font-family="Liberation Serif" font-weight="bold" font-size="5.4" fill="#f2eefa">27</text>
<rect x="700.77" y="93.5" width="1.2" height="40.4" fill="#5e5a66"/>
<rect x="709.31" y="106.2" width="8.8" height="2.6" rx="1.2" fill="#a9a39a" stroke="#09080c" stroke-width="0.7"/>
<rect x="710.11" y="106.9" width="7.2" height="0.8" fill="#f4f1ea"/>
<rect x="709.31" y="117.2" width="8.8" height="2.6" rx="1.2" fill="#a9a39a" stroke="#09080c" stroke-width="0.7"/>
<rect x="710.11" y="118.3" width="7.2" height="0.8" fill="#f4f1ea"/>
<rect x="710.21" y="100.3" width="7" height="1.6" fill="#b98e5f"/>
<rect x="710.21" y="128.3" width="7" height="1.6" fill="#b98e5f"/>
<path d="M703.97,115.2 L708.17,115.2 L706.07,110.8 Z" fill="#e39a2e"/>
<path d="M708.27,110.8 L712.47,110.8 L710.37,115.2 Z" fill="#e39a2e"/>
<path d="M714.57,115.2 L718.77,115.2 L716.67,110.8 Z" fill="#74b84c"/>
<path d="M718.87,110.8 L723.07,110.8 L720.97,115.2 Z" fill="#74b84c"/>
<rect x="703.67" y="87.2" width="5.2" height="3.6" rx="1.6" fill="#2a2040"/>
<rect x="716.77" y="87.2" width="5.2" height="3.6" rx="1.6" fill="#2a2040"/>
<path d="M703.57,138.3 L706.97,138.3 L705.27,141.3 Z" fill="#f2eefa"/>
<path d="M713.97,141.3 L717.37,141.3 L715.67,138.3 Z" fill="#f2eefa"/>
<text x="707.17" y="141.7" font-family="Liberation Serif" font-weight="bold" font-size="5.4" fill="#f2eefa">28</text>
<text x="717.57" y="141.7" font-family="Liberation Serif" font-weight="bold" font-size="5.4" fill="#f2eefa">29</text>
<rect x="725.45" y="93.5" width="1.2" height="40.4" fill="#5e5a66"/>
<rect x="733.99" y="106.2" width="8.8" height="2.6" rx="1.2" fill="#a9a39a" stroke="#09080c" stroke-width="0.7"/>
<rect x="734.79" y="106.9" width="7.2" height="0.8" fill="#f4f1ea"/>
<rect x="733.99" y="117.2" width="8.8" height="2.6" rx="1.2" fill="#a9a39a" stroke="#09080c" stroke-width="0.7"/>
<rect x="734.79" y="118.3" width="7.2" height="0.8" fill="#f4f1ea"/>
<rect x="734.89" y="100.3" width="7" height="1.6" fill="#b98e5f"/>
<rect x="734.89" y="128.3" width="7" height="1.6" fill="#b98e5f"/>
<path d="M728.65,115.2 L732.85,115.2 L730.75,110.8 Z" fill="#e39a2e"/>
<path d="M732.95,110.8 L737.15,110.8 L735.05,115.2 Z" fill="#e39a2e"/>
<path d="M739.25,115.2 L743.45,115.2 L741.35,110.8 Z" fill="#74b84c"/>
<path d="M743.55,110.8 L747.75,110.8 L745.65,115.2 Z" fill="#74b84c"/>
<rect x="728.35" y="87.2" width="5.2" height="3.6" rx="1.6" fill="#2a2040"/>
<rect x="741.45" y="87.2" width="5.2" height="3.6" rx="1.6" fill="#2a2040"/>
<path d="M728.25,138.3 L731.65,138.3 L729.95,141.3 Z" fill="#f2eefa"/>
<path d="M738.65,141.3 L742.05,141.3 L740.35,138.3 Z" fill="#f2eefa"/>
<text x="731.85" y="141.7" font-family="Liberation Serif" font-weight="bold" font-size="5.4" fill="#f2eefa">30</text>
<text x="742.25" y="141.7" font-family="Liberation Serif" font-weight="bold" font-size="5.4" fill="#f2eefa">31</text>
<rect x="750.13" y="93.5" width="1.2" height="40.4" fill="#5e5a66"/>
<rect x="758.68" y="106.2" width="8.8" height="2.6" rx="1.2" fill="#a9a39a" stroke="#09080c" stroke-width="0.7"/>
<rect x="759.48" y="106.9" width="7.2" height="0.8" fill="#f4f1ea"/>
<rect x="758.68" y="117.2" width="8.8" height="2.6" rx="1.2" fill="#a9a39a" stroke="#09080c" stroke-width="0.7"/>
<rect x="759.48" y="118.3" width="7.2" height="0.8" fill="#f4f1ea"/>
<rect x="759.58" y="100.3" width="7" height="1.6" fill="#b98e5f"/>
<rect x="759.58" y="128.3" width="7" height="1.6" fill="#b98e5f"/>
<path d="M753.33,115.2 L757.53,115.2 L755.43,110.8 Z" fill="#e39a2e"/>
<path d="M757.63,110.8 L761.83,110.8 L759.73,115.2 Z" fill="#e39a2e"/>
<path d="M763.93,115.2 L768.13,115.2 L766.03,110.8 Z" fill="#74b84c"/>
<path d="M768.23,110.8 L772.43,110.8 L770.33,115.2 Z" fill="#74b84c"/>
<rect x="753.03" y="87.2" width="5.2" height="3.6" rx="1.6" fill="#2a2040"/>
<rect x="766.13" y="87.2" width="5.2" height="3.6" rx="1.6" fill="#2a2040"/>
<path d="M752.93,138.3 L756.33,138.3 L754.63,141.3 Z" fill="#f2eefa"/>
<path d="M763.33,141.3 L766.73,141.3 L765.03,138.3 Z" fill="#f2eefa"/>
<text x="756.53" y="141.7" font-family="Liberation Serif" font-weight="bold" font-size="5.4" fill="#f2eefa">32</text>
<text x="766.93" y="141.7" font-family="Liberation Serif" font-weight="bold" font-size="5.4" fill="#f2eefa">33</text>
<rect x="774.82" y="93.5" width="1.2" height="40.4" fill="#5e5a66"/>
<rect x="783.36" y="106.2" width="8.8" height="2.6" rx="1.2" fill="#a9a39a" stroke="#09080c" stroke-width="0.7"/>
<rect x="784.16" y="106.9" width="7.2" height="0.8" fill="#f4f1ea"/>
<rect x="783.36" y="117.2" width="8.8" height="2.6" rx="1.2" fill="#a9a39a" stroke="#09080c" stroke-width="0.7"/>
<rect x="784.16" y="118.3" width="7.2" height="0.8" fill="#f4f1ea"/>
<rect x="784.26" y="100.3" width="7" height="1.6" fill="#b98e5f"/>
<rect x="784.26" y="128.3" width="7" height="1.6" fill="#b98e5f"/>
<path d="M778.02,115.2 L782.22,115.2 L780.12,110.8 Z" fill="#e39a2e"/>
<path d="M782.32,110.8 L786.52,110.8 L784.42,115.2 Z" fill="#e39a2e"/>
<path d="M788.62,115.2 L792.82,115.2 L790.72,110.8 Z" fill="#74b84c"/>
<path d="M792.92,110.8 L797.12,110.8 L795.02,115.2 Z" fill="#74b84c"/>
<rect x="777.72" y="87.2" width="5.2" height="3.6" rx="1.6" fill="#2a2040"/>
<rect x="790.82" y="87.2" width="5.2" height="3.6" rx="1.6" fill="#2a2040"/>
<path d="M777.62,138.3 L781.02,138.3 L779.32,141.3 Z" fill="#f2eefa"/>
<path d="M788.02,141.3 L791.42,141.3 L789.72,138.3 Z" fill="#f2eefa"/>
<text x="781.22" y="141.7" font-family="Liberation Serif" font-weight="bold" font-size="5.4" fill="#f2eefa">34</text>
<text x="791.62" y="141.7" font-family="Liberation Serif" font-weight="bold" font-size="5.4" fill="#f2eefa">35</text>
<rect x="807.8" y="93" width="148.6" height="41.3" rx="2" fill="#1b1a24" stroke="#8f8b98" stroke-width="1.1"/>
<rect x="808.3" y="107.9" width="147.6" height="10.2" fill="#efe3c6"/>
<rect x="816.24" y="106.2" width="8.8" height="2.6" rx="1.2" fill="#a9a39a" stroke="#09080c" stroke-width="0.7"/>
<rect x="817.04" y="106.9" width="7.2" height="0.8" fill="#f4f1ea"/>
<rect x="816.24" y="117.2" width="8.8" height="2.6" rx="1.2" fill="#a9a39a" stroke="#09080c" stroke-width="0.7"/>
<rect x="817.04" y="118.3" width="7.2" height="0.8" fill="#f4f1ea"/>
<rect x="817.14" y="100.3" width="7" height="1.6" fill="#b98e5f"/>
<rect x="817.14" y="128.3" width="7" height="1.6" fill="#b98e5f"/>
<path d="M810.90,115.2 L815.10,115.2 L813.00,110.8 Z" fill="#e39a2e"/>
<path d="M815.20,110.8 L819.40,110.8 L817.30,115.2 Z" fill="#e39a2e"/>
<path d="M821.50,115.2 L825.70,115.2 L823.60,110.8 Z" fill="#74b84c"/>
<path d="M825.80,110.8 L830.00,110.8 L827.90,115.2 Z" fill="#74b84c"/>
<rect x="810.60" y="87.2" width="5.2" height="3.6" rx="1.6" fill="#2a2040"/>
<rect x="823.70" y="87.2" width="5.2" height="3.6" rx="1.6" fill="#2a2040"/>
<path d="M810.50,138.3 L813.90,138.3 L812.20,141.3 Z" fill="#f2eefa"/>
<path d="M820.90,141.3 L824.30,141.3 L822.60,138.3 Z" fill="#f2eefa"/>
<text x="814.10" y="141.7" font-family="Liberation Serif" font-weight="bold" font-size="5.4" fill="#f2eefa">36</text>
<text x="824.50" y="141.7" font-family="Liberation Serif" font-weight="bold" font-size="5.4" fill="#f2eefa">37</text>
<rect x="832.38" y="93.5" width="1.2" height="40.4" fill="#5e5a66"/>
<rect x="840.92" y="106.2" width="8.8" height="2.6" rx="1.2" fill="#a9a39a" stroke="#09080c" stroke-width="0.7"/>
<rect x="841.72" y="106.9" width="7.2" height="0.8" fill="#f4f1ea"/>
<rect x="840.92" y="117.2" width="8.8" height="2.6" rx="1.2" fill="#a9a39a" stroke="#09080c" stroke-width="0.7"/>
<rect x="841.72" y="118.3" width="7.2" height="0.8" fill="#f4f1ea"/>
<rect x="841.82" y="100.3" width="7" height="1.6" fill="#b98e5f"/>
<rect x="841.82" y="128.3" width="7" height="1.6" fill="#b98e5f"/>
<path d="M835.58,115.2 L839.78,115.2 L837.68,110.8 Z" fill="#e39a2e"/>
<path d="M839.88,110.8 L844.08,110.8 L841.98,115.2 Z" fill="#e39a2e"/>
<path d="M846.18,115.2 L850.38,115.2 L848.28,110.8 Z" fill="#74b84c"/>
<path d="M850.48,110.8 L854.68,110.8 L852.58,115.2 Z" fill="#74b84c"/>
<rect x="835.28" y="87.2" width="5.2" height="3.6" rx="1.6" fill="#2a2040"/>
<rect x="848.38" y="87.2" width="5.2" height="3.6" rx="1.6" fill="#2a2040"/>
<path d="M835.18,138.3 L838.58,138.3 L836.88,141.3 Z" fill="#f2eefa"/>
<path d="M845.58,141.3 L848.98,141.3 L847.28,138.3 Z" fill="#f2eefa"/>
<text x="838.78" y="141.7" font-family="Liberation Serif" font-weight="bold" font-size="5.4" fill="#f2eefa">38</text>
<text x="849.18" y="141.7" font-family="Liberation Serif" font-weight="bold" font-size="5.4" fill="#f2eefa">39</text>
<rect x="857.07" y="93.5" width="1.2" height="40.4" fill="#5e5a66"/>
<rect x="865.61" y="106.2" width="8.8" height="2.6" rx="1.2" fill="#a9a39a" stroke="#09080c" stroke-width="0.7"/>
<rect x="866.41" y="106.9" width="7.2" height="0.8" fill="#f4f1ea"/>
<rect x="865.61" y="117.2" width="8.8" height="2.6" rx="1.2" fill="#a9a39a" stroke="#09080c" stroke-width="0.7"/>
<rect x="866.41" y="118.3" width="7.2" height="0.8" fill="#f4f1ea"/>
<rect x="866.51" y="100.3" width="7" height="1.6" fill="#b98e5f"/>
<rect x="866.51" y="128.3" width="7" height="1.6" fill="#b98e5f"/>
<path d="M860.27,115.2 L864.47,115.2 L862.37,110.8 Z" fill="#e39a2e"/>
<path d="M864.57,110.8 L868.77,110.8 L866.67,115.2 Z" fill="#e39a2e"/>
<path d="M870.87,115.2 L875.07,115.2 L872.97,110.8 Z" fill="#74b84c"/>
<path d="M875.17,110.8 L879.37,110.8 L877.27,115.2 Z" fill="#74b84c"/>
<rect x="859.97" y="87.2" width="5.2" height="3.6" rx="1.6" fill="#2a2040"/>
<rect x="873.07" y="87.2" width="5.2" height="3.6" rx="1.6" fill="#2a2040"/>
<path d="M859.87,138.3 L863.27,138.3 L861.57,141.3 Z" fill="#f2eefa"/>
<path d="M870.27,141.3 L873.67,141.3 L871.97,138.3 Z" fill="#f2eefa"/>
<text x="863.47" y="141.7" font-family="Liberation Serif" font-weight="bold" font-size="5.4" fill="#f2eefa">40</text>
<text x="873.87" y="141.7" font-family="Liberation Serif" font-weight="bold" font-size="5.4" fill="#f2eefa">41</text>
<rect x="881.75" y="93.5" width="1.2" height="40.4" fill="#5e5a66"/>
<rect x="890.29" y="106.2" width="8.8" height="2.6" rx="1.2" fill="#a9a39a" stroke="#09080c" stroke-width="0.7"/>
<rect x="891.09" y="106.9" width="7.2" height="0.8" fill="#f4f1ea"/>
<rect x="890.29" y="117.2" width="8.8" height="2.6" rx="1.2" fill="#a9a39a" stroke="#09080c" stroke-width="0.7"/>
<rect x="891.09" y="118.3" width="7.2" height="0.8" fill="#f4f1ea"/>
<rect x="891.19" y="100.3" width="7" height="1.6" fill="#b98e5f"/>
<rect x="891.19" y="128.3" width="7" height="1.6" fill="#b98e5f"/>
<path d="M884.95,115.2 L889.15,115.2 L887.05,110.8 Z" fill="#e39a2e"/>
<path d="M889.25,110.8 L893.45,110.8 L891.35,115.2 Z" fill="#e39a2e"/>
<path d="M895.55,115.2 L899.75,115.2 L897.65,110.8 Z" fill="#74b84c"/>
<path d="M899.85,110.8 L904.05,110.8 L901.95,115.2 Z" fill="#74b84c"/>
<rect x="884.65" y="87.2" width="5.2" height="3.6" rx="1.6" fill="#2a2040"/>
<rect x="897.75" y="87.2" width="5.2" height="3.6" rx="1.6" fill="#2a2040"/>
<path d="M884.55,138.3 L887.95,138.3 L886.25,141.3 Z" fill="#f2eefa"/>
<path d="M894.95,141.3 L898.35,141.3 L896.65,138.3 Z" fill="#f2eefa"/>
<text x="888.15" y="141.7" font-family="Liberation Serif" font-weight="bold" font-size="5.4" fill="#f2eefa">42</text>
<text x="898.55" y="141.7" font-family="Liberation Serif" font-weight="bold" font-size="5.4" fill="#f2eefa">43</text>
<rect x="906.43" y="93.5" width="1.2" height="40.4" fill="#5e5a66"/>
<rect x="914.98" y="106.2" width="8.8" height="2.6" rx="1.2" fill="#a9a39a" stroke="#09080c" stroke-width="0.7"/>
<rect x="915.77" y="106.9" width="7.2" height="0.8" fill="#f4f1ea"/>
<rect x="914.98" y="117.2" width="8.8" height="2.6" rx="1.2" fill="#a9a39a" stroke="#09080c" stroke-width="0.7"/>
<rect x="915.77" y="118.3" width="7.2" height="0.8" fill="#f4f1ea"/>
<rect x="915.88" y="100.3" width="7" height="1.6" fill="#b98e5f"/>
<rect x="915.88" y="128.3" width="7" height="1.6" fill="#b98e5f"/>
<path d="M909.63,115.2 L913.83,115.2 L911.73,110.8 Z" fill="#e39a2e"/>
<path d="M913.93,110.8 L918.13,110.8 L916.03,115.2 Z" fill="#e39a2e"/>
<path d="M920.23,115.2 L924.43,115.2 L922.33,110.8 Z" fill="#74b84c"/>
<path d="M924.53,110.8 L928.73,110.8 L926.63,115.2 Z" fill="#74b84c"/>
<rect x="909.33" y="87.2" width="5.2" height="3.6" rx="1.6" fill="#2a2040"/>
<rect x="922.43" y="87.2" width="5.2" height="3.6" rx="1.6" fill="#2a2040"/>
<path d="M909.23,138.3 L912.63,138.3 L910.93,141.3 Z" fill="#f2eefa"/>
<path d="M919.63,141.3 L923.03,141.3 L921.33,138.3 Z" fill="#f2eefa"/>
<text x="912.83" y="141.7" font-family="Liberation Serif" font-weight="bold" font-size="5.4" fill="#f2eefa">44</text>
<text x="923.23" y="141.7" font-family="Liberation Serif" font-weight="bold" font-size="5.4" fill="#f2eefa">45</text>
<rect x="931.12" y="93.5" width="1.2" height="40.4" fill="#5e5a66"/>
<rect x="939.66" y="106.2" width="8.8" height="2.6" rx="1.2" fill="#a9a39a" stroke="#09080c" stroke-width="0.7"/>
<rect x="940.46" y="106.9" width="7.2" height="0.8" fill="#f4f1ea"/>
<rect x="939.66" y="117.2" width="8.8" height="2.6" rx="1.2" fill="#a9a39a" stroke="#09080c" stroke-width="0.7"/>
<rect x="940.46" y="118.3" width="7.2" height="0.8" fill="#f4f1ea"/>
<rect x="940.56" y="100.3" width="7" height="1.6" fill="#b98e5f"/>
<rect x="940.56" y="128.3" width="7" height="1.6" fill="#b98e5f"/>
<path d="M934.32,115.2 L938.52,115.2 L936.42,110.8 Z" fill="#e39a2e"/>
<path d="M938.62,110.8 L942.82,110.8 L940.72,115.2 Z" fill="#e39a2e"/>
<path d="M944.92,115.2 L949.12,115.2 L947.02,110.8 Z" fill="#74b84c"/>
<path d="M949.22,110.8 L953.42,110.8 L951.32,115.2 Z" fill="#74b84c"/>
<rect x="934.02" y="87.2" width="5.2" height="3.6" rx="1.6" fill="#2a2040"/>
<rect x="947.12" y="87.2" width="5.2" height="3.6" rx="1.6" fill="#2a2040"/>
<path d="M933.92,138.3 L937.32,138.3 L935.62,141.3 Z" fill="#f2eefa"/>
<path d="M944.32,141.3 L947.72,141.3 L946.02,138.3 Z" fill="#f2eefa"/>
<text x="937.52" y="141.7" font-family="Liberation Serif" font-weight="bold" font-size="5.4" fill="#f2eefa">46</text>
<text x="947.92" y="141.7" font-family="Liberation Serif" font-weight="bold" font-size="5.4" fill="#f2eefa">47</text>
<text transform="translate(964.4,136.3) rotate(-90)" x="0" y="0" font-family="Liberation Serif" font-weight="bold" font-size="6.2" fill="#f2eefa" textLength="46.3" lengthAdjust="spacingAndGlyphs">1/10GE SFP+ * 48</text>
</svg>
</body></html>
